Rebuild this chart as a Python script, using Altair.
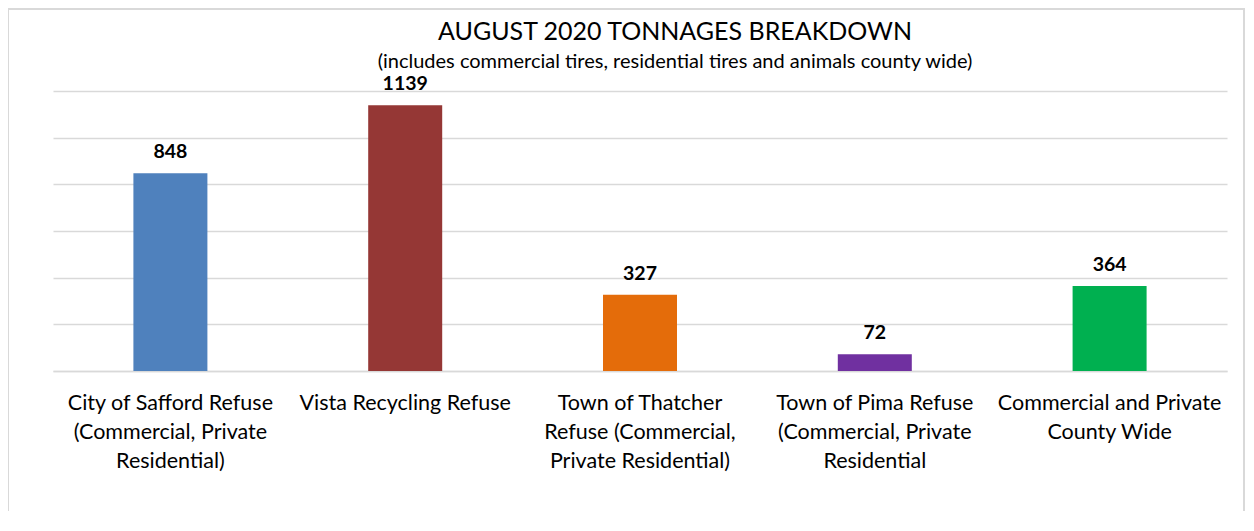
import altair as alt
import pandas as pd

categories = [
    "City of Safford Refuse\n(Commercial, Private\nResidential)",
    "Vista Recycling Refuse",
    "Town of Thatcher\nRefuse (Commercial,\nPrivate Residential)",
    "Town of Pima Refuse\n(Commercial, Private\nResidential",
    "Commercial and Private\nCounty Wide",
]
values = [848, 1139, 327, 72, 364]
colors = ["#4F81BD", "#953735", "#E46C0A", "#7030A0", "#00B050"]

df = pd.DataFrame({"cat": categories, "val": values, "color": colors})
FONT = "Lato"

base = alt.Chart(df).encode(
    x=alt.X("cat:N", sort=categories, title=None,
            scale=alt.Scale(paddingInner=0, paddingOuter=0),
            axis=alt.Axis(labelAngle=0, labelExpr="split(datum.value, '\\n')",
                          labelFontSize=21.5, labelFont=FONT, labelColor="#000000",
                          labelLineHeight=29, labelPadding=21, ticks=False, grid=False,
                          domainColor="#d9d9d9", domainWidth=1.5, labelLimit=400)),
    y=alt.Y("val:Q", title=None, scale=alt.Scale(domain=[0, 1200]),
            axis=alt.Axis(values=[0, 200, 400, 600, 800, 1000, 1200], labels=False,
                          ticks=False, domain=False, gridColor="#d9d9d9", gridWidth=1.5)),
)

bars = base.mark_bar(size=74).encode(color=alt.Color("color:N", scale=None))
labels = base.mark_text(baseline="bottom", dy=-11, fontSize=19.5, fontWeight="bold",
                        font=FONT, color="#000000").encode(text="val:Q")

frame = alt.Chart(pd.DataFrame({"a": [0]})).mark_rect(
    fill=None, stroke="#d9d9d9", strokeWidth=2
).encode(x=alt.value(-45), x2=alt.value(1191), y=alt.value(-82), y2=alt.value(470))

chart = alt.layer(frame, bars, labels).properties(
    width=1174, height=280,
    autosize=alt.AutoSizeParams(type="none"),
    padding={"left": 45, "top": 83, "right": 19, "bottom": 140},
    title=alt.TitleParams(
        "AUGUST 2020 TONNAGES BREAKDOWN",
        subtitle="(includes commercial tires, residential tires and animals county wide)",
        anchor="middle", frame="group", dx=35, fontSize=25, font=FONT, fontWeight="normal",
        color="#000000", subtitleFont=FONT, subtitleFontSize=20,
        subtitleColor="#000000", subtitlePadding=7, offset=-64,
    ),
).configure(background="white").configure_view(strokeWidth=0)

chart.save("out.html", embed_options={"renderer": "svg", "actions": False})
